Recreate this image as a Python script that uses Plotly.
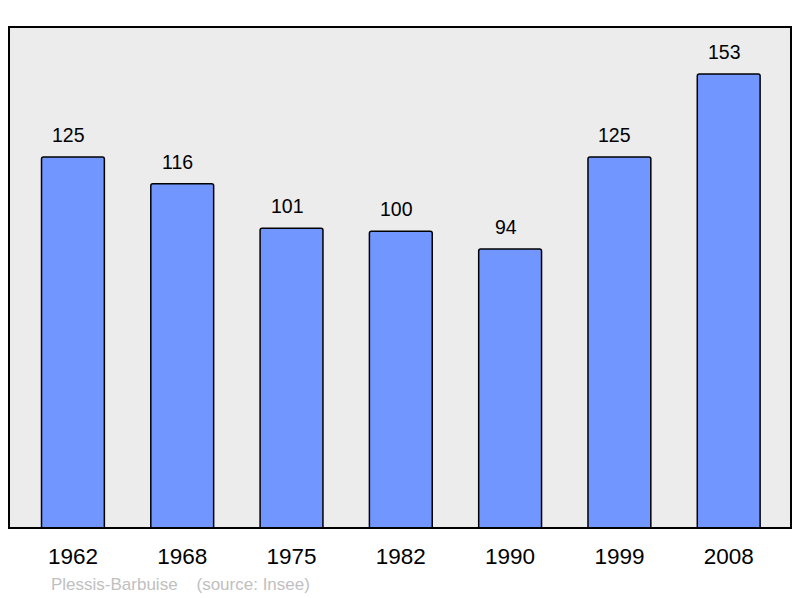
import plotly.graph_objects as go

years = ["1962", "1968", "1975", "1982", "1990", "1999", "2008"]
population = [125, 116, 101, 100, 94, 125, 153]
source_note = "Plessis-Barbuise    (source: Insee)"

xs = list(range(len(years)))

fig = go.Figure()
fig.add_trace(go.Bar(
    x=xs, y=population, width=0.575,
    marker=dict(color="#7196ff", line=dict(color="#000000", width=1.5), cornerradius=2),
    hoverinfo="skip",
))

for x, v in zip(xs, population):
    fig.add_annotation(x=x, y=v, text=str(v), showarrow=False, yshift=22, xshift=-4.5,
                       font=dict(family="Liberation Sans", size=19.5, color="#000000"))

fig.add_annotation(xref="paper", yref="paper", x=0.051, y=-0.112, xanchor="left", yanchor="middle",
                   text=source_note.replace("    ", "&nbsp;&nbsp;&nbsp;&nbsp;"), showarrow=False,
                   font=dict(family="Liberation Sans", size=17, color="#c0c0c0"))

fig.add_shape(type="rect", xref="paper", yref="paper", x0=0, y0=0, x1=1, y1=1,
              line=dict(color="#000000", width=2), layer="above")

fig.update_layout(
    width=800, height=598,
    margin=dict(l=9, r=9, t=27, b=70),
    paper_bgcolor="#ffffff", plot_bgcolor="#ececec",
    showlegend=False,
    xaxis=dict(range=[-0.585, 6.57], tickmode="array", tickvals=xs, ticktext=years,
               showgrid=False, zeroline=False, ticks="", ticklen=0, ticklabelstandoff=12,
               tickfont=dict(family="Liberation Sans", size=22.5, color="#000000")),
    yaxis=dict(range=[0, 168.8], showgrid=False, zeroline=False, showticklabels=False),
)

# the page's default body margin would shift the chart by 8px
fig.write_html("out.html", config={"displayModeBar": False},
               post_script="document.body.style.margin='0';document.body.style.overflow='hidden';")
